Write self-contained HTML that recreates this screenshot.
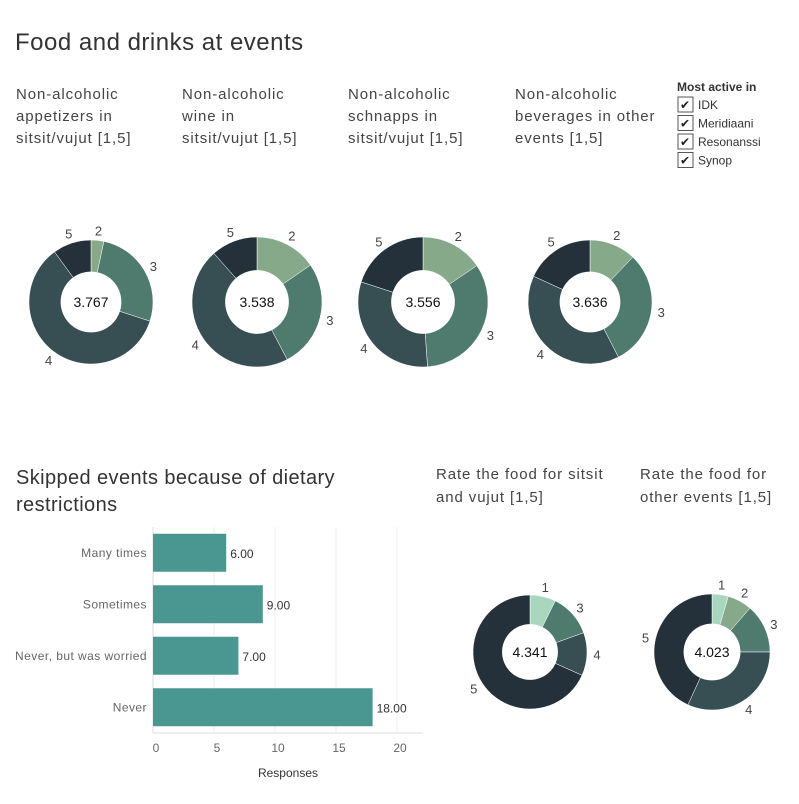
<!DOCTYPE html>
<html><head><meta charset="utf-8"><style>
body{margin:0;width:799px;height:799px;background:#fff;font-family:"Liberation Sans","DejaVu Sans",sans-serif;overflow:hidden}
svg text{font-family:"Liberation Sans","DejaVu Sans",sans-serif}
</style></head><body>
<svg id="c" width="799" height="799">
<text x="15" y="50" font-size="24" letter-spacing="0.5" fill="#333">Food and drinks at events</text>
<g font-size="15" letter-spacing="0.9" fill="#444">
<text x="16" y="99">Non-alcoholic</text><text x="16" y="121">appetizers in</text><text x="16" y="143">sitsit/vujut [1,5]</text>
<text x="182" y="99">Non-alcoholic</text><text x="182" y="121">wine in</text><text x="182" y="143">sitsit/vujut [1,5]</text>
<text x="348" y="99">Non-alcoholic</text><text x="348" y="121">schnapps in</text><text x="348" y="143">sitsit/vujut [1,5]</text>
<text x="515" y="99">Non-alcoholic</text><text x="515" y="121">beverages in other</text><text x="515" y="143">events [1,5]</text>
<text x="436" y="479">Rate the food for sitsit</text><text x="436" y="502">and vujut [1,5]</text>
<text x="640" y="479">Rate the food for</text><text x="640" y="502">other events [1,5]</text>
</g>
<g>
<text x="677" y="91" font-size="12" font-weight="bold" fill="#333">Most active in</text>
</g>
<text x="16" y="484" font-size="20" letter-spacing="0.4" fill="#333">Skipped events because of dietary</text>
<text x="16" y="511" font-size="20" letter-spacing="0.4" fill="#333">restrictions</text>
<g id="donuts"></g><g id="bars"></g><g id="leg"></g>
</svg>
<script>
const donutLevels=[[2,3,4,5],[2,3,4,5],[2,3,4,5],[2,3,4,5],[1,3,4,5],[1,2,3,4,5]];
const donutCounts=[[1,8,18,3],[4,7,12,3],[7,15,14,9],[4,10,13,6],[3,5,5,28],[2,3,6,14,19]];
const donutMeans=["3.767","3.538","3.556","3.636","4.341","4.023"];
const barCategories=["Many times","Sometimes","Never, but was worried","Never"];
const barValues=[6,9,7,18];
const xTicks=[0,5,10,15,20];
const legendItems=["IDK","Meridiaani","Resonanssi","Synop"];
const NS="http://www.w3.org/2000/svg";
function mk(t,a,p){const e=document.createElementNS(NS,t);for(const k in a)e.setAttribute(k,a[k]);p.appendChild(e);return e;}
const colors={1:"#a9d6bf",2:"#86a98a",3:"#4f7a6e",4:"#374f53",5:"#24313a"};
const centers=[[91,302,62],[257,302,65],[423,302,65],[590,302,62],[530,652,57],[712,652,58]];
const dg=document.getElementById('donuts');
donutCounts.forEach((cs,i)=>{
 const [cx,cy,R]=centers[i];const tot=cs.reduce((a,b)=>a+b,0);let a0=0;
 const g=mk('g',{},dg);
 
 
 cs.forEach((v,j)=>{
  const a1=a0+v/tot*2*Math.PI;
  const p=(a)=>[cx+R*Math.sin(a),cy-R*Math.cos(a)];
  const [x0,y0]=p(a0),[x1,y1]=p(a1);
  const s=mk('path',{d:`M${cx},${cy}L${x0},${y0}A${R},${R} 0 ${a1-a0>Math.PI?1:0} 1 ${x1},${y1}Z`,fill:colors[donutLevels[i][j]],stroke:"#fff","stroke-width":0.5},g);
  
  
  const am=(a0+a1)/2,lr=R+10;
  const t=mk('text',{x:cx+lr*Math.sin(am),y:cy-lr*Math.cos(am)+5,"font-size":13,fill:"#444","text-anchor":"middle"},g);
  t.textContent=donutLevels[i][j];
  
  
  a0=a1;
 });
 mk('circle',{cx,cy,r:R*0.49,fill:"#fff"},g);
 const t=mk('text',{x:cx,y:cy+5,"font-size":14,fill:"#111","text-anchor":"middle"},g);
 t.textContent=donutMeans[i];
 
 
});
const bg=document.getElementById('bars');
const xs=v=>153+v*12.2;
const bandTop=527,band=51.5;
mk('line',{x1:153,y1:527,x2:153,y2:733,stroke:"#ddd"},bg);
xTicks.forEach(t=>{
 if(t>0)mk('line',{x1:xs(t),y1:527,x2:xs(t),y2:733,stroke:"#eee"},bg);
 const l=mk('text',{x:xs(t)+3,y:752,"font-size":12,fill:"#666","text-anchor":"middle"},bg);
 l.textContent=t;
 
 
});
mk('line',{x1:153,y1:733,x2:423,y2:733,stroke:"#ddd"},bg);
const xt=mk('text',{x:288,y:777,"font-size":12,fill:"#333","text-anchor":"middle"},bg);
xt.textContent="Responses";


barCategories.forEach((c,i)=>{
 const cy=bandTop+band*i+band/2;
 const r=mk('rect',{x:153,y:cy-19,width:xs(barValues[i])-153,height:38,fill:"#4a9690"},bg);
 
 
 const l=mk('text',{x:147,y:cy+4,"font-size":12,"letter-spacing":0.45,fill:"#666","text-anchor":"end"},bg);
 l.textContent=c;
 
 
 const v=mk('text',{x:xs(barValues[i])+4,y:cy+5,"font-size":12,fill:"#333"},bg);
 v.textContent=barValues[i].toFixed(2);
 
 
});
const lg=document.getElementById('leg');
legendItems.forEach((n,i)=>{
 const y=97+i*18.5;
 const b=mk('rect',{x:678,y:y,width:15,height:15,fill:"#fff",stroke:"#555"},lg);
 
 
 const ck=mk('text',{x:680,y:y+12,"font-size":12,fill:"#222"},lg);
 ck.textContent="✔";
 
 
 const t=mk('text',{x:698,y:y+12,"font-size":12,fill:"#333"},lg);
 t.textContent=n;
 
 
});
</script>
</body></html>
